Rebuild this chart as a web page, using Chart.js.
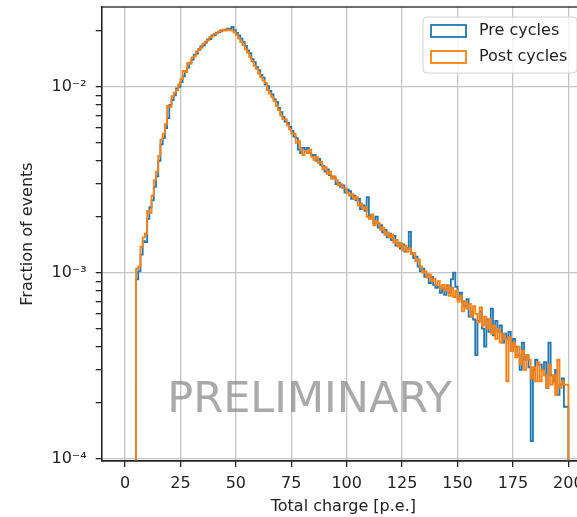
<!DOCTYPE html>
<html>
<head>
<meta charset="utf-8">
<script src="https://cdn.jsdelivr.net/npm/chart.js@4.4.1/dist/chart.umd.min.js"></script>
<style>
  html, body { margin: 0; padding: 0; background: #fff; overflow: hidden; }
  #grafico { display: block; }
</style>
</head>
<body>
<canvas id="grafico" width="600" height="517"></canvas>
<script>
// histogram bins: 1 p.e. wide, first bin starts at 5 p.e.
const binStart = 5;
const binWidth = 1;

// fraction of events per bin
const preCycles = [
    0.46e-3, 0.92e-3, 1.02e-3, 1.25e-3, 1.48e-3, 1.46e-3, 1.95e-3, 2.25e-3, 2.45e-3, 2.9e-3,
    3.3e-3, 4.0e-3, 4.9e-3, 5.3e-3, 6.0e-3, 6.8e-3, 8.0e-3, 8.5e-3, 9.0e-3, 9.8e-3,
    10.0e-3, 10.6e-3, 11.4e-3, 12.2e-3, 12.7e-3, 13.5e-3, 14.0e-3, 14.9e-3, 15.1e-3, 15.8e-3,
    16.5e-3, 16.7e-3, 17.3e-3, 18.0e-3, 18.1e-3, 18.9e-3, 19.0e-3, 19.6e-3, 19.7e-3, 20.1e-3,
    20.2e-3, 20.3e-3, 20.6e-3, 20.5e-3, 21.0e-3, 20.2e-3, 19.5e-3, 18.9e-3, 18.2e-3, 17.4e-3,
    16.6e-3, 15.7e-3, 15.2e-3, 14.1e-3, 13.6e-3, 12.8e-3, 12.3e-3, 11.6e-3, 11.2e-3, 10.3e-3,
    10.1e-3, 9.5e-3, 9.1e-3, 8.6e-3, 8.3e-3, 7.7e-3, 7.3e-3, 6.9e-3, 6.5e-3, 6.4e-3,
    6.1e-3, 5.8e-3, 5.4e-3, 5.3e-3, 4.6e-3, 4.4e-3, 4.7e-3, 4.6e-3, 4.7e-3, 4.4e-3,
    4.3e-3, 4.3e-3, 4.0e-3, 4.1e-3, 3.8e-3, 3.75e-3, 3.5e-3, 3.6e-3, 3.35e-3, 3.3e-3,
    3.25e-3, 3.0e-3, 3.05e-3, 2.9e-3, 2.95e-3, 2.7e-3, 2.8e-3, 2.75e-3, 2.5e-3, 2.6e-3,
    2.45e-3, 2.5e-3, 2.2e-3, 2.3e-3, 2.15e-3, 2.55e-3, 2.0e-3, 2.05e-3, 1.85e-3, 2.0e-3,
    1.75e-3, 1.8e-3, 1.65e-3, 1.7e-3, 1.55e-3, 1.62e-3, 1.5e-3, 1.58e-3, 1.4e-3, 1.45e-3,
    1.35e-3, 1.42e-3, 1.3e-3, 1.36e-3, 1.66e-3, 1.28e-3, 1.2e-3, 1.22e-3, 1.08e-3, 1.02e-3,
    1.05e-3, 0.95e-3, 0.98e-3, 0.88e-3, 0.95e-3, 0.86e-3, 0.83e-3, 0.84e-3, 0.78e-3, 0.82e-3,
    0.76e-3, 0.85e-3, 0.78e-3, 0.92e-3, 1.0e-3, 0.84e-3, 0.72e-3, 0.78e-3, 0.7e-3, 0.66e-3,
    0.72e-3, 0.58e-3, 0.62e-3, 0.56e-3, 0.36e-3, 0.55e-3, 0.62e-3, 0.5e-3, 0.4e-3, 0.56e-3,
    0.48e-3, 0.64e-3, 0.46e-3, 0.55e-3, 0.48e-3, 0.52e-3, 0.42e-3, 0.47e-3, 0.44e-3, 0.48e-3,
    0.38e-3, 0.44e-3, 0.4e-3, 0.36e-3, 0.3e-3, 0.42e-3, 0.34e-3, 0.36e-3, 0.31e-3, 0.124e-3,
    0.3e-3, 0.34e-3, 0.32e-3, 0.32e-3, 0.3e-3, 0.33e-3, 0.24e-3, 0.42e-3, 0.28e-3, 0.26e-3,
    0.3e-3, 0.22e-3, 0.25e-3, 0.27e-3, 0.19e-3
];

const postCycles = [
    0.43e-3, 1.05e-3, 1.08e-3, 1.38e-3, 1.55e-3, 1.62e-3, 2.15e-3, 2.1e-3, 2.6e-3, 3.15e-3,
    3.5e-3, 4.25e-3, 5.2e-3, 5.6e-3, 6.3e-3, 7.9e-3, 7.8e-3, 8.9e-3, 9.3e-3, 9.6e-3,
    10.3e-3, 11.0e-3, 12.2e-3, 12.0e-3, 13.4e-3, 13.3e-3, 14.4e-3, 14.6e-3, 15.5e-3, 16.0e-3,
    16.2e-3, 17.1e-3, 17.5e-3, 17.8e-3, 18.5e-3, 18.7e-3, 19.3e-3, 19.4e-3, 19.9e-3, 19.9e-3,
    20.3e-3, 20.1e-3, 20.3e-3, 20.2e-3, 20.1e-3, 19.6e-3, 19.0e-3, 18.2e-3, 17.4e-3, 16.8e-3,
    15.9e-3, 15.3e-3, 14.5e-3, 13.7e-3, 13.0e-3, 12.5e-3, 11.8e-3, 11.3e-3, 10.8e-3, 10.5e-3,
    9.6e-3, 9.2e-3, 8.8e-3, 8.4e-3, 7.9e-3, 7.5e-3, 7.0e-3, 6.7e-3, 6.7e-3, 6.2e-3,
    5.9e-3, 5.6e-3, 5.6e-3, 5.0e-3, 5.1e-3, 4.6e-3, 4.3e-3, 4.5e-3, 4.4e-3, 4.6e-3,
    4.2e-3, 4.05e-3, 4.2e-3, 3.9e-3, 3.95e-3, 3.6e-3, 3.7e-3, 3.4e-3, 3.5e-3, 3.2e-3,
    3.3e-3, 3.15e-3, 2.95e-3, 3.0e-3, 2.85e-3, 2.85e-3, 2.7e-3, 2.6e-3, 2.65e-3, 2.5e-3,
    2.55e-3, 2.3e-3, 2.35e-3, 2.2e-3, 2.25e-3, 2.0e-3, 1.95e-3, 2.05e-3, 1.8e-3, 1.9e-3,
    1.85e-3, 1.7e-3, 1.75e-3, 1.6e-3, 1.65e-3, 1.55e-3, 1.6e-3, 1.45e-3, 1.5e-3, 1.38e-3,
    1.44e-3, 1.32e-3, 1.4e-3, 1.3e-3, 1.35e-3, 1.26e-3, 1.28e-3, 1.15e-3, 1.18e-3, 1.08e-3,
    1.0e-3, 1.02e-3, 0.94e-3, 0.98e-3, 0.9e-3, 0.93e-3, 0.86e-3, 0.9e-3, 0.82e-3, 0.86e-3,
    0.8e-3, 0.86e-3, 0.75e-3, 0.83e-3, 0.74e-3, 0.8e-3, 0.7e-3, 0.75e-3, 0.62e-3, 0.7e-3,
    0.64e-3, 0.68e-3, 0.58e-3, 0.66e-3, 0.6e-3, 0.54e-3, 0.65e-3, 0.52e-3, 0.58e-3, 0.5e-3,
    0.56e-3, 0.47e-3, 0.52e-3, 0.44e-3, 0.5e-3, 0.42e-3, 0.47e-3, 0.44e-3, 0.26e-3, 0.45e-3,
    0.38e-3, 0.42e-3, 0.35e-3, 0.4e-3, 0.32e-3, 0.38e-3, 0.3e-3, 0.36e-3, 0.34e-3, 0.27e-3,
    0.31e-3, 0.26e-3, 0.33e-3, 0.26e-3, 0.3e-3, 0.28e-3, 0.24e-3, 0.32e-3, 0.25e-3, 0.28e-3,
    0.22e-3, 0.34e-3, 0.24e-3, 0.26e-3, 0.25e-3
];

const seriesNames = ['Pre cycles', 'Post cycles'];
const seriesColors = ['#1f77b4', '#ff7f0e'];

const xTicks = [0, 25, 50, 75, 100, 125, 150, 175, 200];
const yTickValues = [
    1e-4, 2e-4, 3e-4, 4e-4, 5e-4, 6e-4, 7e-4, 8e-4, 9e-4,
    1e-3, 2e-3, 3e-3, 4e-3, 5e-3, 6e-3, 7e-3, 8e-3, 9e-3,
    1e-2, 2e-2
];
const yMajorTicks = [1e-4, 1e-3, 1e-2];
const yMajorLabels = ['10⁻⁴', '10⁻³', '10⁻²'];

const fonte = { family: '"DejaVu Sans"', size: 16 };
const corTexto = '#222';
const corGrade = '#c4c4c4';

// step outline like matplotlib histtype="step": drop to zero at both ends
function pontosHistograma(valores) {
    const pts = [{ x: binStart, y: 1e-9 }];
    valores.forEach((v, i) => pts.push({ x: binStart + i * binWidth, y: v }));
    const fim = binStart + valores.length * binWidth;
    pts.push({ x: fim, y: valores.at(-1) });
    pts.push({ x: fim, y: 1e-9 });
    return pts;
}

// frame, watermark and legend box drawn inside the axes
const extras = {
    id: 'extras',
    afterDatasetsDraw(chart) {
        const { ctx, chartArea: a } = chart;
        ctx.save();

        ctx.font = '43px "DejaVu Sans"';
        ctx.fillStyle = 'rgba(128,128,128,0.68)';
        ctx.textAlign = 'center';
        ctx.textBaseline = 'alphabetic';
        ctx.fillText('PRELIMINARY', a.left + 0.43 * (a.right - a.left), a.top + 0.893 * (a.bottom - a.top));

        ctx.strokeStyle = corTexto;
        ctx.lineWidth = 1.3;
        ctx.strokeRect(a.left, a.top, a.right - a.left, a.bottom - a.top);

        const largura = 154, altura = 56;
        const esq = a.right - 8 - largura;
        const topo = a.top + 10;
        ctx.beginPath();
        ctx.roundRect(esq, topo, largura, altura, 4);
        ctx.fillStyle = 'rgba(255,255,255,0.8)';
        ctx.fill();
        ctx.strokeStyle = '#d4d4d4';
        ctx.lineWidth = 1;
        ctx.stroke();

        ctx.font = '16px "DejaVu Sans"';
        ctx.textAlign = 'left';
        ctx.textBaseline = 'middle';
        seriesNames.forEach((nome, i) => {
            const cy = topo + 14 + i * 26;
            ctx.strokeStyle = seriesColors[i];
            ctx.lineWidth = 1.8;
            ctx.strokeRect(esq + 8, cy - 6, 35, 12);
            ctx.fillStyle = corTexto;
            ctx.fillText(nome, esq + 56, cy);
        });

        ctx.restore();
    }
};

new Chart(document.getElementById('grafico'), {
    type: 'line',
    data: {
        datasets: [
            {
                label: seriesNames[0],
                data: pontosHistograma(preCycles),
                borderColor: seriesColors[0],
                borderWidth: 1.8,
                stepped: 'after',
                pointRadius: 0,
                fill: false,
                order: 2
            },
            {
                label: seriesNames[1],
                data: pontosHistograma(postCycles),
                borderColor: seriesColors[1],
                borderWidth: 1.8,
                stepped: 'after',
                pointRadius: 0,
                fill: false,
                order: 1
            }
        ]
    },
    options: {
        responsive: false,
        animation: false,
        devicePixelRatio: 1,
        layout: { padding: { top: 7, right: 15, left: 0, bottom: 0 } },
        plugins: {
            legend: { display: false },
            tooltip: { enabled: false }
        },
        scales: {
            x: {
                type: 'linear',
                min: -10.5,
                max: 207.5,
                afterBuildTicks: s => { s.ticks = xTicks.map(v => ({ value: v })); },
                afterFit: s => { s.height = 56; s.paddingLeft = 0; s.paddingRight = 0; },
                ticks: { autoSkip: false, maxRotation: 0, padding: 7, color: corTexto, font: fonte },
                grid: { color: corGrade, lineWidth: 1.3, tickColor: corTexto, tickLength: 6 },
                border: { color: corTexto, width: 1.3 },
                title: {
                    display: true,
                    text: 'Total charge [p.e.]',
                    color: corTexto,
                    font: fonte,
                    padding: { top: 0, bottom: 1 }
                }
            },
            y: {
                type: 'logarithmic',
                min: 9.7e-5,
                max: 0.0269,
                afterBuildTicks: s => {
                    s.ticks = yTickValues.map(v => ({ value: v, major: yMajorTicks.includes(v) }));
                },
                afterFit: s => { s.width = 101.7; s.paddingTop = 0; s.paddingBottom = 0; },
                ticks: {
                    autoSkip: false,
                    padding: 9,
                    color: corTexto,
                    font: fonte,
                    callback: v => {
                        const i = yMajorTicks.indexOf(v);
                        return i >= 0 ? yMajorLabels[i] : '';
                    }
                },
                grid: {
                    color: ctx => (ctx.tick && ctx.tick.major) ? corGrade : 'rgba(0,0,0,0)',
                    lineWidth: 1.3,
                    tickColor: corTexto,
                    tickLength: 6
                },
                border: { color: corTexto, width: 1.3 },
                title: {
                    display: true,
                    text: 'Fraction of events',
                    color: corTexto,
                    font: fonte,
                    padding: { top: 18, bottom: 0 }
                }
            }
        }
    },
    plugins: [extras]
});
</script>
</body>
</html>
